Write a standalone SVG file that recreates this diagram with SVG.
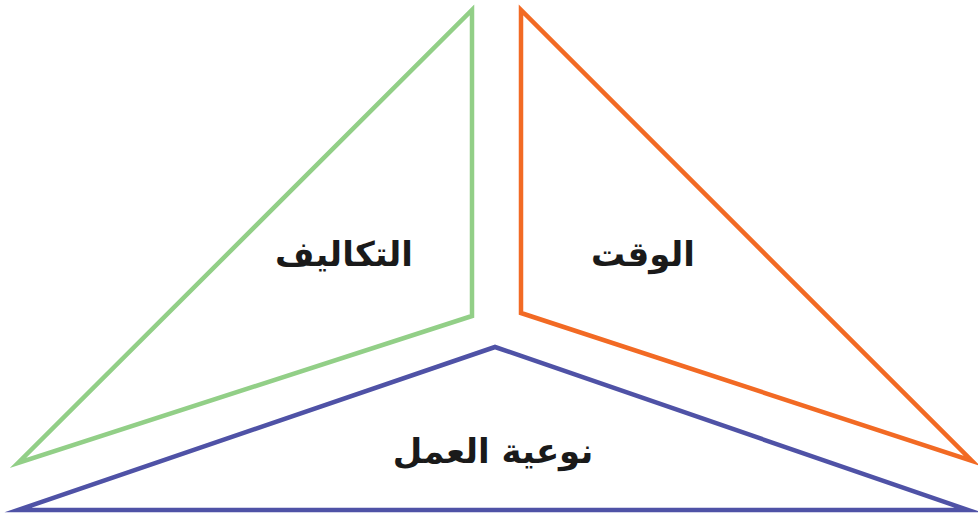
<svg xmlns="http://www.w3.org/2000/svg" width="978" height="517" viewBox="0 0 978 517">
<style>
.tri{fill:none;stroke-width:4.5;stroke-linejoin:miter;stroke-miterlimit:20}
.lbl{font-family:"DejaVu Sans",sans-serif;font-weight:bold;font-size:34px;fill:#1a1a1a;text-anchor:middle}
</style>
<rect width="978" height="517" fill="#ffffff"/>
<g id="costs">
<polygon class="tri" stroke="#92cf87" points="472,10 472,316 18,463"/>
<text class="lbl" x="344" y="266" direction="rtl">التكاليف</text>
</g>
<g id="time">
<polygon class="tri" stroke="#f26a24" points="521,10 521,313 972,461"/>
<text class="lbl" x="643" y="266" direction="rtl">الوقت</text>
</g>
<g id="scope">
<polygon class="tri" stroke="#4f52a6" points="495,347 18,510 968,510"/>
<text class="lbl" x="493" y="463" direction="rtl">نوعية العمل</text>
</g>
<g id="connectors"></g>
</svg>
